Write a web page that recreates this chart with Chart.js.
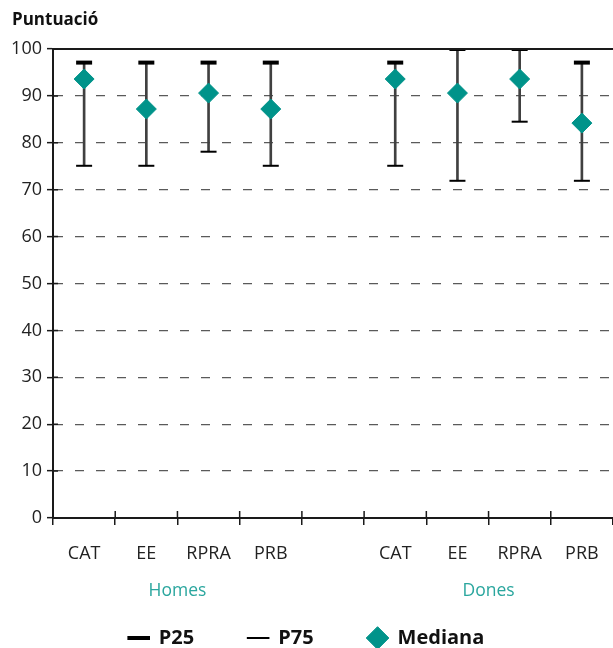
<!DOCTYPE html>
<html>
<head>
<meta charset="utf-8">
<script src="https://cdn.jsdelivr.net/npm/chart.js@4.4.1/dist/chart.umd.min.js"></script>
<style>
  html, body { margin: 0; padding: 0; background: #fff; }
  #wrap { width: 613px; height: 648px; position: relative; }
</style>
</head>
<body>
<div id="wrap"><canvas id="c" width="613" height="648"></canvas></div>
<script>
// ---- data ----
const categories = ['CAT', 'EE', 'RPRA', 'PRB', '', 'CAT', 'EE', 'RPRA', 'PRB'];
const groupLabels = ['Homes', 'Dones'];
const groupSpans = [[0, 3], [5, 8]];          // category index ranges of each group
const p25 = [97.1, 97.1, 97.1, 97.1, null, 97.1, 100, 100, 97.1];
const p75 = [75.1, 75.1, 78.1, 75.1, null, 75.1, 71.9, 84.5, 71.9];
const mediana = [93.6, 87.2, 90.6, 87.2, null, 93.6, 90.6, 93.6, 84.2];
const yMin = 0, yMax = 100, yStep = 10;
const yTitle = 'Puntuació';

const FONT = "'Open Sans', 'Noto Sans', sans-serif";
const TEAL = '#00938a';

const ranges = categories.map((c, i) => (p25[i] == null || p75[i] == null) ? null : [p75[i], p25[i]]);

const extrasPlugin = {
  id: 'extras',
  afterDraw(chart) {
    const ctx = chart.ctx;
    const x = chart.scales.x, y = chart.scales.y;
    const area = chart.chartArea;
    ctx.save();
    // solid line at the top value
    const yTop = y.getPixelForValue(yMax);
    ctx.strokeStyle = '#1a1a1a';
    ctx.lineWidth = 2;
    ctx.beginPath();
    ctx.moveTo(area.left, yTop);
    ctx.lineTo(area.right, yTop);
    ctx.stroke();
    // inward parts of the tick marks
    ctx.lineWidth = 1.5;
    ctx.beginPath();
    for (let i = 1; i < categories.length; i++) {
      const px = (x.getPixelForValue(i - 1) + x.getPixelForValue(i)) / 2;
      ctx.moveTo(px, area.bottom);
      ctx.lineTo(px, area.bottom - 7);
    }
    y.ticks.forEach(t => {
      const py = y.getPixelForValue(t.value);
      ctx.moveTo(area.left, py);
      ctx.lineTo(area.left + 5, py);
    });
    ctx.stroke();
    // title
    ctx.fillStyle = '#111';
    ctx.font = 'bold 17px ' + FONT;
    ctx.textAlign = 'left';
    ctx.textBaseline = 'middle';
    ctx.fillText(yTitle, 12, area.top - 29);
    // group labels
    ctx.fillStyle = '#2aa69e';
    ctx.font = '17.5px ' + FONT;
    ctx.textAlign = 'center';
    groupLabels.forEach((g, k) => {
      const [a, b] = groupSpans[k];
      const px = (x.getPixelForValue(a) + x.getPixelForValue(b)) / 2;
      ctx.fillText(g, px, area.bottom + 73);
    });
    ctx.restore();
  }
};

new Chart(document.getElementById('c'), {
  data: {
    labels: categories,
    datasets: [
      {
        type: 'bar',
        label: '',
        data: ranges,
        backgroundColor: '#404040',
        barThickness: 2,
        order: 3
      },
      {
        type: 'line',
        label: 'P25',
        data: p25,
        showLine: false,
        pointStyle: 'line',
        pointRadius: 8,
        pointHoverRadius: 8,
        borderWidth: 4,
        pointBorderWidth: 4,
        borderColor: '#000',
        pointBorderColor: '#000',
        backgroundColor: '#000',
        order: 2
      },
      {
        type: 'line',
        label: 'P75',
        data: p75,
        showLine: false,
        pointStyle: 'line',
        pointRadius: 8,
        pointHoverRadius: 8,
        borderWidth: 2,
        pointBorderWidth: 2,
        borderColor: '#000',
        pointBorderColor: '#000',
        backgroundColor: '#000',
        order: 2
      },
      {
        type: 'line',
        label: 'Mediana',
        data: mediana,
        showLine: false,
        pointStyle: 'rectRot',
        pointRadius: 10,
        pointHoverRadius: 10,
        borderWidth: 1,
        pointBorderWidth: 1,
        borderColor: TEAL,
        pointBorderColor: TEAL,
        backgroundColor: TEAL,
        pointBackgroundColor: TEAL,
        order: 1
      }
    ]
  },
  options: {
    responsive: false,
    animation: false,
    devicePixelRatio: 1,
    layout: { autoPadding: false, padding: { top: 49, left: 0, right: 0, bottom: -10 } },
    plugins: {
      tooltip: { enabled: false },
      legend: {
        display: true,
        position: 'bottom',
        labels: {
          usePointStyle: true,
          boxHeight: 16,
          padding: 54,
          color: '#111',
          font: { family: FONT, size: 20, weight: 'bold' },
          filter: item => item.text !== '',
          sort: (a, b) => a.datasetIndex - b.datasetIndex
        }
      }
    },
    scales: {
      x: {
        type: 'category',
        offset: true,
        grid: {
          display: true,
          offset: true,
          drawOnChartArea: false,
          drawTicks: true,
          tickLength: 7,
          color: '#1a1a1a',
          lineWidth: 1.5
        },
        border: { display: true, color: '#1a1a1a', width: 2 },
        ticks: {
          color: '#222',
          padding: 18,
          autoSkip: false,
          maxRotation: 0,
          font: { family: FONT, size: 18 }
        },
        afterFit(scale) { scale.height = 56; scale.paddingRight = 0; scale.paddingLeft = 0; }
      },
      y: {
        type: 'linear',
        min: yMin,
        max: yMax,
        ticks: {
          stepSize: yStep,
          color: '#222',
          padding: 5,
          font: { family: FONT, size: 18 }
        },
        grid: {
          color: '#5a5a5a',
          lineWidth: 1.3,
          drawTicks: true,
          tickLength: 6,
          tickColor: '#1a1a1a',
          tickWidth: 1.5
        },
        border: { display: true, color: '#1a1a1a', width: 2, dash: [9, 12] },
        afterFit(scale) { scale.width = 53; }
      }
    }
  },
  plugins: [extrasPlugin]
});
</script>
</body>
</html>
